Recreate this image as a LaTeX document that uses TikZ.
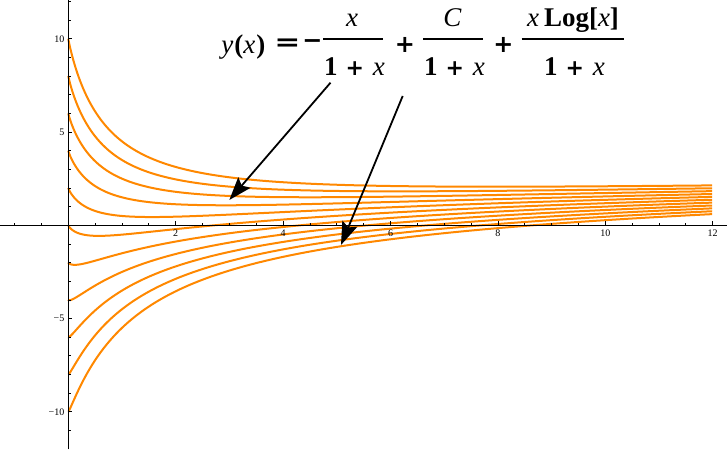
\documentclass[tikz,border=0pt]{standalone}
\usepackage{fontspec}
\setmainfont{Liberation Serif}
\newfontfamily\opfont{DejaVu Sans}
\usepackage{graphicx}
\usetikzlibrary{arrows.meta}
\definecolor{curveorange}{RGB}{255,136,0}
\tikzset{
  curve/.style={curveorange, line width=2pt, line join=round},
  axisline/.style={black, line width=0.9pt},
  tickline/.style={black, line width=0.8pt},
  ticklabel/.style={font=\fontsize{10}{12}\selectfont, inner sep=0pt},
  formula/.style={font=\fontsize{27}{32}\selectfont, inner sep=0pt},
  operator/.style={font=\opfont\bfseries\fontsize{24}{28}\selectfont, inner sep=0pt},
  fracbar/.style={black, line width=2pt},
  callout/.style={black, line width=1.8pt, -{Stealth[length=23pt, width=16pt, inset=4pt]}},
}
\begin{document}
\begin{tikzpicture}[x=1pt,y=-1pt]
\useasboundingbox (0,0) rectangle (728,450);
\fill[white] (0,0) rectangle (728,450);
\begin{scope}[shift={(68.3,225.3)}, x=53.7pt, y=18.65pt]
  % solution curves
  \foreach \C in {-10,-8,...,10}{
    \draw[curve] (0,\C) -- plot[domain=0.02:3.4641, samples=160, variable=\t] ({\t*\t},{(\C - \t*\t + 2*\t*\t*ln(\t))/(1+\t*\t)});
  }
  % axes
  \draw[axisline] (-1.272,0) -- (12.27,0);
  \draw[axisline] (0,-12.02) -- (0,12.1);
  % x ticks
  \foreach \k in {-2,...,24}{
    \draw[tickline] (\k/2,0) -- ++(0,2.8pt);
  }
  \foreach \k in {2,4,...,12}{
    \draw[tickline] (\k,0) -- ++(0,4.2pt);
    \node[ticklabel, yshift=-8.2pt] (xl\k) at (\k,0) {\k};
  }
  % y ticks
  \foreach \k in {-11,...,12}{
    \draw[tickline] (0,\k) -- ++(2.8pt,0);
  }
  \foreach \k/\lab in {-10/−10,-5/−5,5/5,10/10}{
    \draw[tickline] (0,\k) -- ++(4pt,0);
    \node[ticklabel, anchor=east, xshift=-3.8pt] at (0,\k) {\lab};
  }
\end{scope}
% formula
\node[formula, anchor=base] (lhs) at (243.3,53) {\textit{y}\kern1pt\textbf{(}\textit{x}\kern1pt\textbf{)}};
\node[operator] (eq) at (287.5,44.7) {\scalebox{1.3}[1]{=}};
\node[operator] (minus) at (312.5,44.3) {−};
% fraction 1
\node[formula, anchor=base] (n1) at (352,26) {\textit{x}};
\draw[fracbar] (323.3,38.8) -- (383.3,38.8);
\node[formula, anchor=base] (d1) at (354.5,75) {\textbf{1}\hspace{8pt}{\opfont\bfseries\fontsize{22}{26}\selectfont +}\hspace{9pt}\textit{x}};
\node[operator] (p1) at (405,45) {+};
% fraction 2
\node[formula, anchor=base] (n2) at (452.5,26) {\textit{C}};
\draw[fracbar] (423.3,38.8) -- (483.3,38.8);
\node[formula, anchor=base] (d2) at (454.5,75) {\textbf{1}\hspace{8pt}{\opfont\bfseries\fontsize{22}{26}\selectfont +}\hspace{9pt}\textit{x}};
\node[operator] (p2) at (503.3,45) {+};
% fraction 3
\node[formula, anchor=base] (n3) at (573,26) {\textit{x}\hspace{5pt}\textbf{Log[}\textit{x}\textbf{]}};
\draw[fracbar] (521.7,38.8) -- (624,38.8);
\node[formula, anchor=base] (d3) at (574.5,75) {\textbf{1}\hspace{8pt}{\opfont\bfseries\fontsize{22}{26}\selectfont +}\hspace{9pt}\textit{x}};
% callout arrows
\coordinate (a1s) at (330.5,82.7);
\coordinate (a1e) at (229.3,200);
\coordinate (a2s) at (402.7,96);
\coordinate (a2e) at (341,245);
\draw[callout] (a1s) -- (a1e);
\draw[callout] (a2s) -- (a2e);
\end{tikzpicture}
\end{document}
